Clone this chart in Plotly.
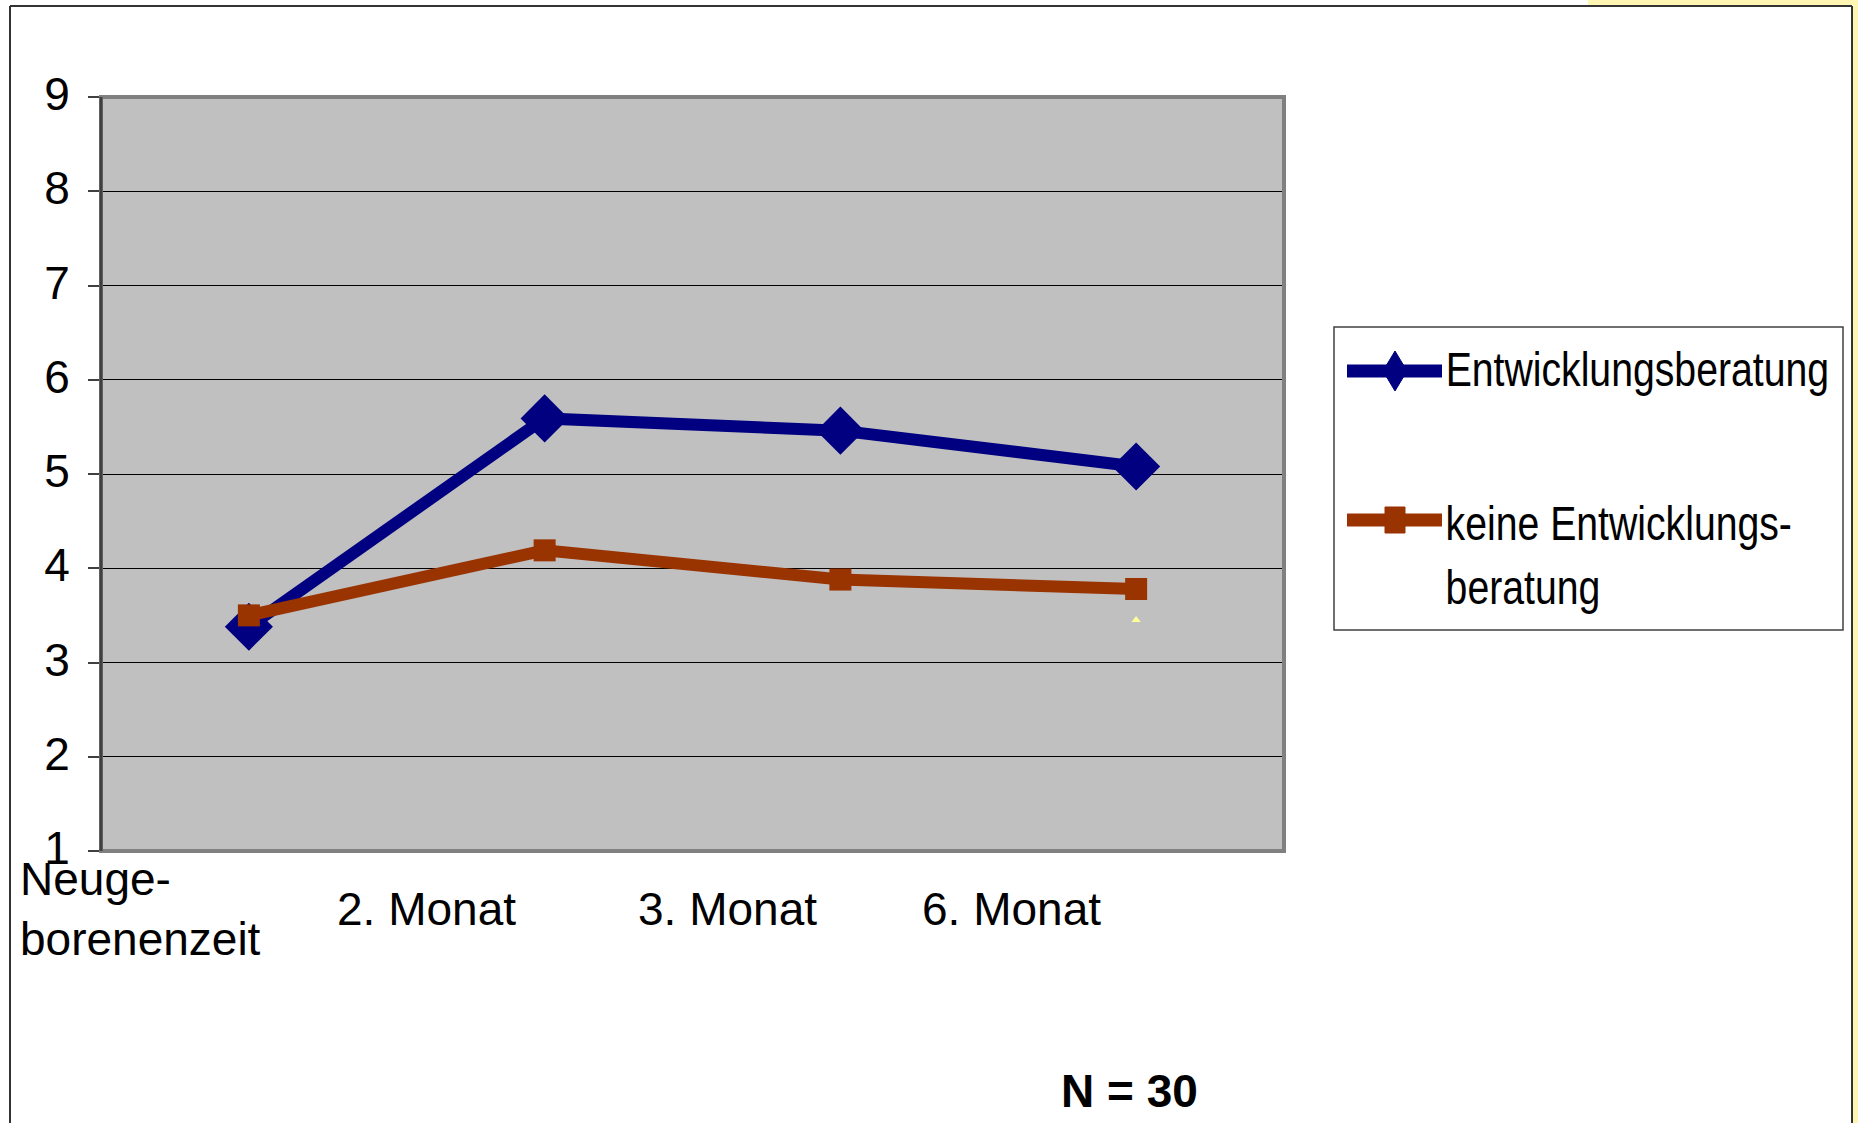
import plotly.graph_objects as go

# ---- data ----
categories = ["Neuge-<br>borenenzeit", "2. Monat", "3. Monat", "6. Monat"]
cat_keys = ["Neugeborenenzeit", "2. Monat", "3. Monat", "6. Monat"]
series_a_name = "Entwicklungsberatung"
series_a = [3.38, 5.59, 5.46, 5.08]
series_b_name = "keine Entwicklungs-<br>beratung"
series_b = [3.50, 4.19, 3.88, 3.78]
series_c = [None, None, None, 3.45]
y_ticks = [1, 2, 3, 4, 5, 6, 7, 8, 9]
note_text = "<b>N = 30</b>"

# ---- layout geometry (pixels) ----
FW, FH = 1858, 1123
L, R, T, B = 101, 1284, 97, 851
W, H = R - L, B - T


def px(x):
    return (x - L) / W


def py(y):
    return (B - y) / H


ARIAL = "Liberation Sans, Arial, sans-serif"
NAVY = "#000080"
RUST = "#993300"

fig = go.Figure()
fig.add_trace(go.Scatter(
    x=cat_keys, y=series_a, mode="lines+markers", name=series_a_name,
    line=dict(color=NAVY, width=12),
    marker=dict(symbol="diamond", size=37, color=NAVY, line=dict(width=0)),
    showlegend=False,
))
fig.add_trace(go.Scatter(
    x=cat_keys, y=series_b, mode="lines+markers", name=series_b_name,
    line=dict(color=RUST, width=12),
    marker=dict(symbol="square", size=22, color=RUST),
    showlegend=False,
))
fig.add_trace(go.Scatter(
    x=cat_keys, y=series_c, mode="markers", name="",
    marker=dict(symbol="triangle-up", size=8, color="#FFFF99"),
    showlegend=False,
))

shapes = []
# outer page frame
shapes.append(dict(type="rect", xref="paper", yref="paper", x0=px(1853), x1=px(1860), y0=py(1130), y1=py(-5),
                   fillcolor="#FFF6B4", line=dict(width=0), layer="below"))
shapes.append(dict(type="rect", xref="paper", yref="paper", x0=px(1588), x1=px(1860), y0=py(5), y1=py(-5),
                   fillcolor="#FFF6B4", line=dict(width=0), layer="below"))
for (x0, y0, x1, y1) in [(10, 6, 1852, 6), (10, 6, 10, 1130), (1852, 6, 1852, 1130)]:
    shapes.append(dict(type="line", xref="paper", yref="paper", x0=px(x0), x1=px(x1), y0=py(y0), y1=py(y1),
                       line=dict(color="#333333", width=2)))
# plot frame
shapes.append(dict(type="rect", xref="paper", yref="paper", x0=0, x1=1, y0=0, y1=1,
                   line=dict(color="#808080", width=4), layer="above"))
shapes.append(dict(type="line", xref="paper", yref="paper", x0=0, x1=0, y0=0, y1=1,
                   line=dict(color="#404040", width=3), layer="above"))

# custom legend
shapes.append(dict(type="rect", xref="paper", yref="paper", x0=px(1334), x1=px(1843), y0=py(630), y1=py(327),
                   line=dict(color="#404040", width=1.5), fillcolor="white", layer="below"))
leg_y1, leg_y2 = 371, 520
for yy, col in [(leg_y1, NAVY), (leg_y2, RUST)]:
    shapes.append(dict(type="line", xref="paper", yref="paper", x0=px(1347), x1=px(1442), y0=py(yy), y1=py(yy),
                       line=dict(color=col, width=13)))
cx = 1395
d_path = "M{},{} L{},{} L{},{} L{},{} Z".format(
    px(cx), py(leg_y1 - 20), px(cx + 12), py(leg_y1), px(cx), py(leg_y1 + 20), px(cx - 12), py(leg_y1))
shapes.append(dict(type="path", xref="paper", yref="paper", path=d_path, fillcolor=NAVY, line=dict(color=NAVY, width=1)))
shapes.append(dict(type="rect", xref="paper", yref="paper", x0=px(cx - 10), x1=px(cx + 10), y0=py(leg_y2 + 13),
                   y1=py(leg_y2 - 13), fillcolor=RUST, line=dict(color=RUST, width=1)))

annotations = []
annotations.append(dict(text=series_a_name, xref="paper", yref="paper", x=px(1444), y=py(369),
                        xanchor="left", yanchor="middle", showarrow=False,
                        font=dict(family=ARIAL, size=49, color="black")))
annotations.append(dict(text=series_b_name, xref="paper", yref="paper", x=px(1444), y=py(555),
                        xanchor="left", yanchor="middle", showarrow=False, align="left",
                        font=dict(family=ARIAL, size=49, color="black")))
# category labels (shifted left as in the original)
label_shifts = [-108, -118, -113, -125]
for key, lab, sh in zip(cat_keys, categories, label_shifts):
    annotations.append(dict(text=lab, xref="x", yref="paper", x=key, y=0, yshift=-58, xshift=sh,
                            xanchor="center", yanchor="middle", showarrow=False, align="left",
                            font=dict(family=ARIAL, size=46, color="black")))
annotations.append(dict(text=note_text, xref="paper", yref="paper", x=px(1129), y=py(1091),
                        xanchor="center", yanchor="middle", showarrow=False,
                        font=dict(family=ARIAL, size=46, color="black")))

fig.update_layout(
    width=FW, height=FH,
    margin=dict(l=L, r=FW - R, t=T, b=FH - B, pad=0),
    paper_bgcolor="white",
    plot_bgcolor="#C0C0C0",
    shapes=shapes,
    annotations=annotations,
    showlegend=False,
    xaxis=dict(type="category", categoryorder="array", categoryarray=cat_keys, range=[-0.5, 3.5],
               showticklabels=False, ticks="", showgrid=False, zeroline=False, showline=False,
               fixedrange=True),
    yaxis=dict(range=[1, 9], tickvals=y_ticks, ticks="outside", ticklen=12, tickwidth=1.5, tickcolor="#404040",
               showgrid=True, gridcolor="#000000", gridwidth=1, zeroline=False, showline=False,
               tickfont=dict(family=ARIAL, size=46, color="black"), ticklabelstandoff=9, ticklabelshift=-3,
               fixedrange=True),
)

post = """
document.body.style.margin = '0';
document.body.style.overflow = 'hidden';
var texts = document.querySelectorAll('.annotation-text');
texts.forEach(function (t) {
  var s = t.textContent || '';
  if (s.indexOf('Entwicklungs') !== -1) {
    t.setAttribute('transform', 'scale(0.8,1)');
  }
});
"""

fig.write_html("out.html", post_script=post, config={"displayModeBar": False})
